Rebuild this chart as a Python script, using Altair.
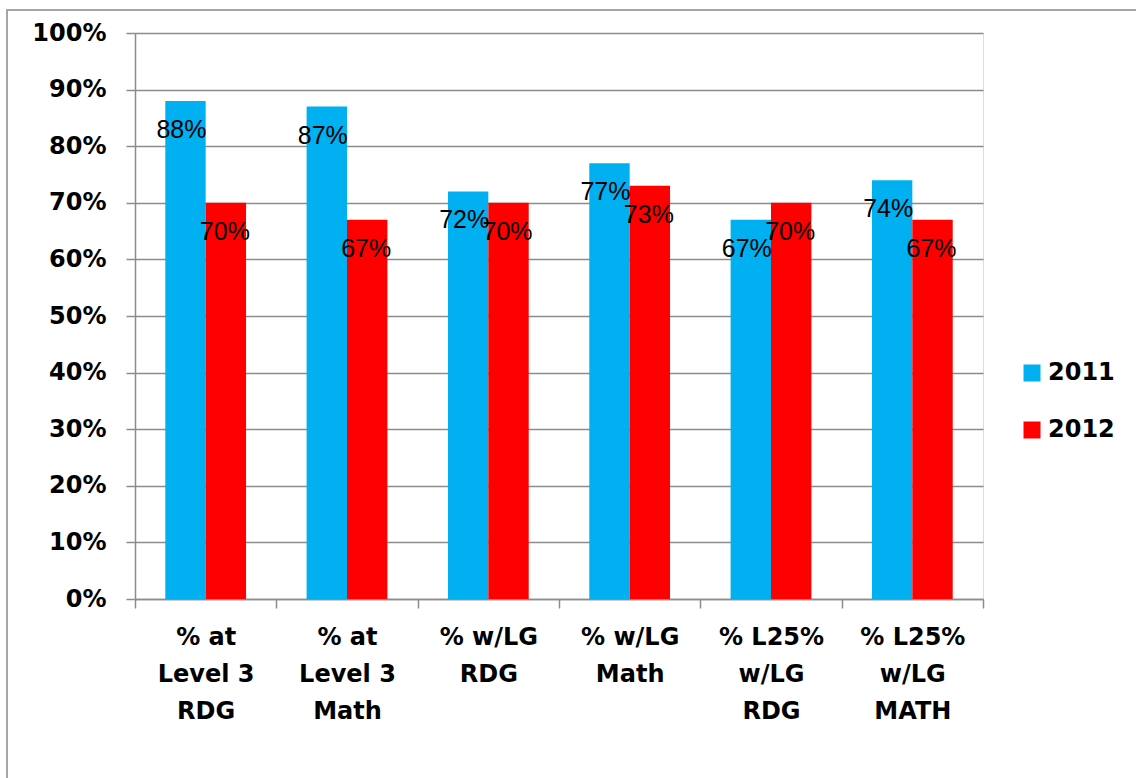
import altair as alt
import pandas as pd

categories = ["% at|Level 3|RDG", "% at|Level 3|Math", "% w/LG|RDG",
              "% w/LG|Math", "% L25%|w/LG|RDG", "% L25%|w/LG|MATH"]
series = ["2011", "2012"]
v2011 = [0.88, 0.87, 0.72, 0.77, 0.67, 0.74]
v2012 = [0.70, 0.67, 0.70, 0.73, 0.70, 0.67]
colors = ["#00B0F0", "#FF0000"]
y_ticks = [i / 10 for i in range(11)]

rows = []
for c, a, b in zip(categories, v2011, v2012):
    rows.append({"cat": c, "year": "2011", "value": a})
    rows.append({"cat": c, "year": "2012", "value": b})
df = pd.DataFrame(rows)

GRID = "#8c8c8c"
W, H = 848, 566

x = alt.X("cat:N", sort=categories, title=None,
          scale=alt.Scale(paddingInner=0, paddingOuter=0),
          axis=alt.Axis(labelExpr="split(datum.label, '|')", labelAngle=0,
                        labelFont="DejaVu Sans", labelFontWeight="bold",
                        labelFontSize=24, labelLineHeight=37, labelColor="black",
                        labelPadding=17, tickBand="extent", tickSize=9,
                        tickColor=GRID, tickWidth=1.5, domainColor=GRID,
                        domainWidth=1.5, grid=False))
xo = alt.XOffset("year:N", sort=series,
                 scale=alt.Scale(paddingInner=0, paddingOuter=0.75))
y = alt.Y("value:Q", title=None,
          scale=alt.Scale(domain=[0, 1], nice=False),
          axis=alt.Axis(values=y_ticks, format=".0%", labelFont="DejaVu Sans",
                        labelFontWeight="bold", labelFontSize=24, labelColor="black",
                        labelPadding=20, tickSize=9, tickColor=GRID, tickWidth=1.5,
                        gridColor=GRID, gridWidth=1.5, domainColor=GRID,
                        domainWidth=1.5))
color = alt.Color("year:N", sort=series, title=None,
                  scale=alt.Scale(domain=series, range=colors),
                  legend=alt.Legend(orient="none", legendX=885, legendY=328,
                                    symbolType="square", symbolSize=289,
                                    symbolStrokeWidth=0,
                                    labelFont="DejaVu Sans", labelFontWeight="bold",
                                    labelFontSize=24, labelColor="black",
                                    rowPadding=33, labelOffset=4))

bars = alt.Chart(df).mark_bar().encode(x=x, xOffset=xo, y=y, color=color)


def label_layer(year, dx):
    return alt.Chart(df).transform_filter(alt.datum.year == year).mark_text(
        font="Liberation Sans", fontSize=25, color="black", baseline="middle",
        dy=29, dx=dx, align="center").encode(
        x=alt.X("cat:N", sort=categories), xOffset=xo, y=alt.Y("value:Q"),
        text=alt.Text("value:Q", format=".0%"))


labels_a = label_layer("2011", -4)
labels_b = label_layer("2012", -1)

border = alt.Chart(pd.DataFrame({"a": [0]})).mark_rect(
    fill=None, stroke="#a6a6a6", strokeWidth=2).encode(
    x=alt.value(-128), y=alt.value(-23), x2=alt.value(1100), y2=alt.value(900))

chart = alt.layer(border, bars, labels_a, labels_b).properties(
    width=W, height=H,
    autosize=alt.AutoSizeParams(type="none"),
    padding={"left": 135, "top": 33, "right": 153, "bottom": 179},
).configure_view(stroke=None).configure(background="white")

chart.save("out.html", embed_options={"renderer": "svg", "actions": False})
